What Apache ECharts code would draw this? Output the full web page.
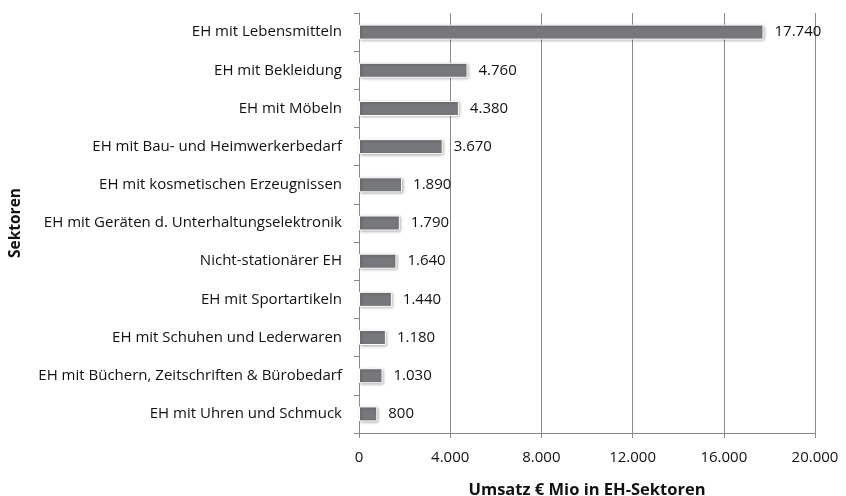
<!DOCTYPE html>
<html><head><meta charset="utf-8">
<script src="https://cdn.jsdelivr.net/npm/echarts@6/dist/echarts.min.js"></script>
<style>html,body{margin:0;padding:0;background:#fff}#c{width:846px;height:496px}</style>
</head><body><div id="c"></div>
<script>
const categories = [
  "EH mit Lebensmitteln",
  "EH mit Bekleidung",
  "EH mit Möbeln",
  "EH mit Bau- und Heimwerkerbedarf",
  "EH mit kosmetischen Erzeugnissen",
  "EH mit Geräten d. Unterhaltungselektronik",
  "Nicht-stationärer EH",
  "EH mit Sportartikeln",
  "EH mit Schuhen und Lederwaren",
  "EH mit Büchern, Zeitschriften & Bürobedarf",
  "EH mit Uhren und Schmuck"
];
const values = [17740, 4760, 4380, 3670, 1890, 1790, 1640, 1440, 1180, 1030, 800];
const xTicks = [0, 4000, 8000, 12000, 16000, 20000];

const fmt = v => String(v).replace(/\B(?=(\d{3})+(?!\d))/g, '.');
const font = '"Open Sans", sans-serif';
const chart = echarts.init(document.getElementById('c'));
chart.setOption({
  animation: false,
  grid: {left: 359, right: 31, top: 13, bottom: 63, containLabel: false, outerBoundsMode: 'none'},
  xAxis: {
    type: 'value', min: xTicks[0], max: xTicks[xTicks.length-1], interval: 4000,
    name: 'Umsatz € Mio in EH-Sektoren', nameLocation: 'middle', nameGap: 49,
    nameTextStyle: {fontFamily: font, fontWeight: 'bold', fontSize: 16.5, color: '#111'},
    axisLine: {show: true, lineStyle: {color: '#888', width: 1}},
    axisTick: {show: true, length: 5, lineStyle: {color: '#888'}},
    axisLabel: {fontFamily: font, fontSize: 15, color: '#111', margin: 17, formatter: v => fmt(v)},
    splitLine: {show: true, lineStyle: {color: '#8a8a8a', width: 1}}
  },
  yAxis: {
    type: 'category', data: categories, inverse: true,
    name: 'Sektoren', nameLocation: 'middle', nameGap: 335, nameRotate: 90,
    nameTextStyle: {fontFamily: font, fontWeight: 'bold', fontSize: 15.5, color: '#111'},
    axisLine: {show: true, lineStyle: {color: '#888', width: 1}},
    axisTick: {show: true, length: 5, lineStyle: {color: '#888'}},
    axisLabel: {fontFamily: font, fontSize: 15, color: '#111', margin: 17}
  },
  series: [{
    type: 'bar', data: values, barWidth: 15,
    itemStyle: {color: '#77787b', borderColor: '#fff', borderWidth: 1,
      shadowColor: 'rgba(0,0,0,0.35)', shadowBlur: 3, shadowOffsetX: 1, shadowOffsetY: 1},
    label: {show: true, position: 'right', distance: 11, fontFamily: font, fontSize: 15, color: '#111',
      formatter: p => fmt(p.value)}
  }]
});
</script></body></html>
